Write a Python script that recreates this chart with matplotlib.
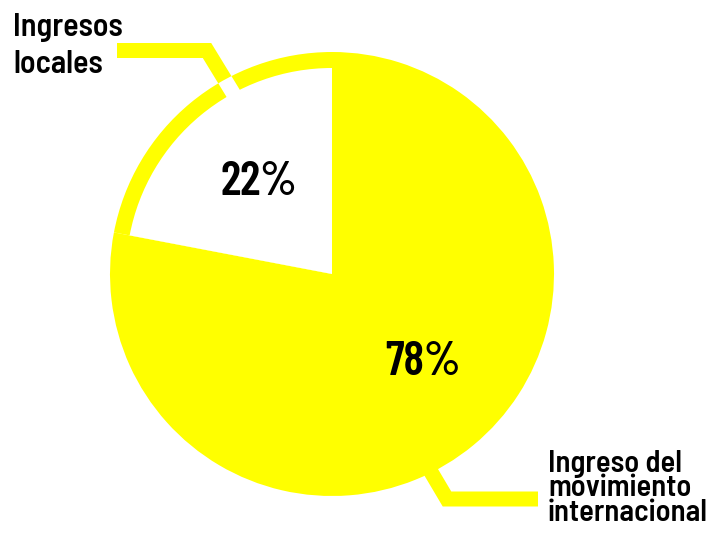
import matplotlib
matplotlib.use("Agg")
import matplotlib.pyplot as plt
from matplotlib.font_manager import FontProperties

# ---- data ----
categories = ["Ingresos locales", "Ingreso del movimiento internacional"]
shares = [22, 78]
pct_labels = ["22%", "78%"]
label_lines = ["Ingresos\nlocales", "Ingreso del\nmovimiento\ninternacional"]

YELLOW = "#ffff00"
W, H = 719, 536
LABEL_FONT = ["Barlow Semi Condensed", "Barlow Condensed", "DejaVu Sans"]
PCT_FONT = ["Barlow Condensed", "Oswald", "DejaVu Sans"]

fig = plt.figure(figsize=(W / 100, H / 100), dpi=100)
ax = fig.add_axes([0, 0, 1, 1])
renderer = fig.canvas.get_renderer()

cx, cy = 332, 274
r_out, r_in = 222, 206

# leader lines (yellow outside the pie)
top_leader = ([117, 207, 247], [50.5, 50.5, 116])
bot_leader = ([418, 447, 538], [450, 499, 499])
for xs, ys in (top_leader, bot_leader):
    ax.plot(xs, ys, color=YELLOW, lw=15 * 0.72, solid_joinstyle="miter",
            solid_capstyle="butt", zorder=1)

# outer yellow disc made of both slices
ax.pie(shares, startangle=-90, counterclock=False, center=(cx, cy), radius=r_out,
       colors=[YELLOW, YELLOW], wedgeprops=dict(linewidth=0, zorder=2))
# inner white wedge for local income
wedges, _ = ax.pie(shares, startangle=-90, counterclock=False, center=(cx, cy), radius=r_in,
                   colors=["white", (0, 0, 0, 0)], wedgeprops=dict(linewidth=0))
for w in wedges:
    w.set_zorder(3)

# white part of top leader where it crosses the yellow ring
ln, = ax.plot(top_leader[0][1:], top_leader[1][1:], color="white", lw=15 * 0.72,
              solid_capstyle="butt", zorder=4)
circ = plt.Circle((cx, cy), r_out, transform=ax.transData)
ln.set_clip_path(circ)

# percentage labels
ax.text(259, 195, pct_labels[0], ha="center", va="baseline", fontsize=34,
        fontweight="semibold", family=PCT_FONT, zorder=5)
ax.text(423, 375, pct_labels[1], ha="center", va="baseline", fontsize=34,
        fontweight="semibold", family=PCT_FONT, zorder=5)


def spacing_for(advance_px, fp):
    # matplotlib advance between baselines = lp_d + (lp_h - lp_d) * linespacing
    _, h, d = renderer.get_text_width_height_descent("lp", fp, ismath=False)
    return (advance_px - d) / (h - d)


# category labels (y = baseline of the last line)
for txt, (x, y_last, adv, size) in zip(label_lines, [(13, 73, 37, 23), (548, 521, 24.5, 22)]):
    fp = FontProperties(family=LABEL_FONT, weight="semibold", size=size)
    ax.text(x, y_last, txt, ha="left", va="baseline", fontproperties=fp,
            linespacing=spacing_for(adv, fp), zorder=5)

ax.set_xlim(0, W)
ax.set_ylim(H, 0)
ax.set_aspect("equal")
ax.axis("off")
fig.savefig("out.png", dpi=100)
